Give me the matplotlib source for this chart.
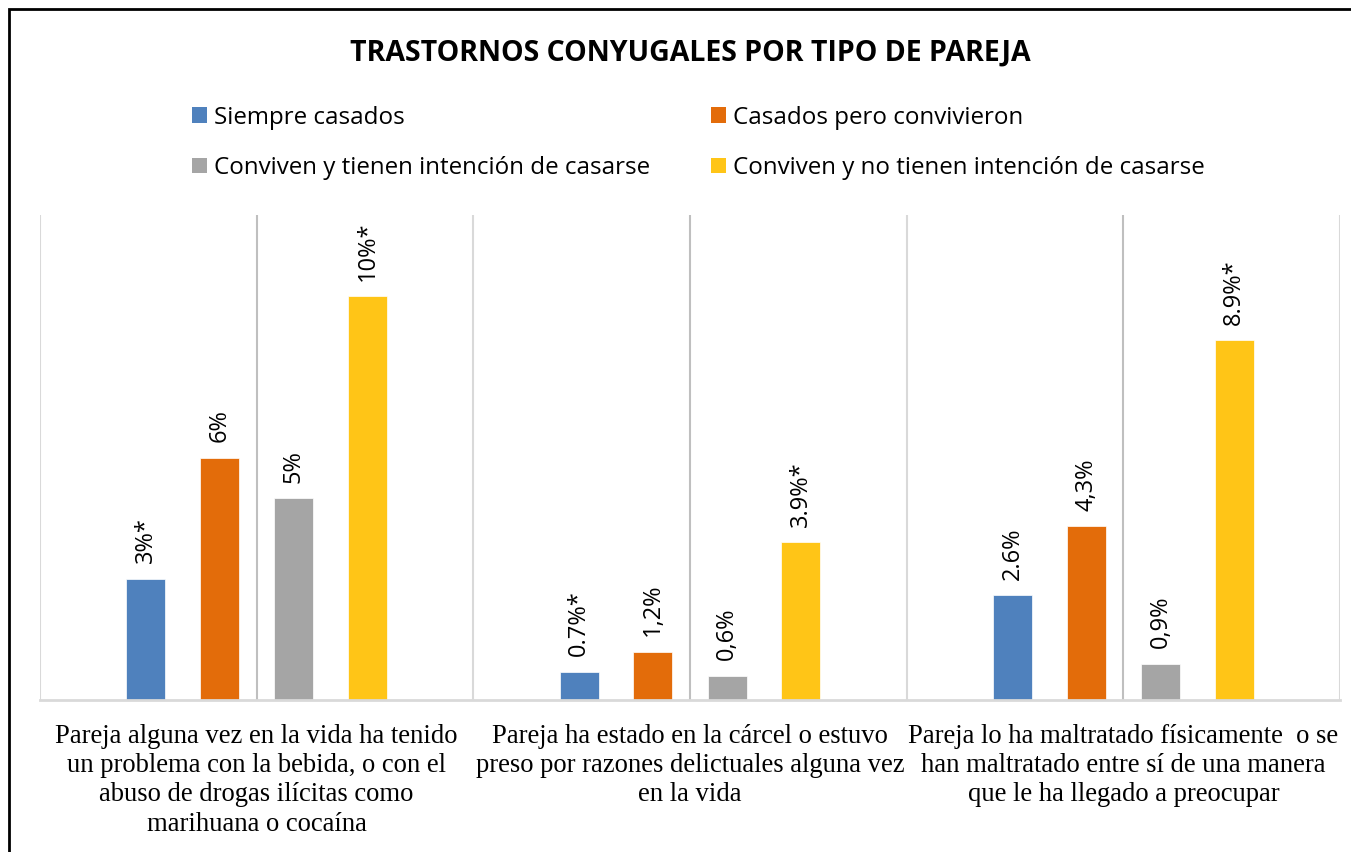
import matplotlib
matplotlib.use("Agg")
import matplotlib.pyplot as plt
import numpy as np
from matplotlib.patches import Patch, Rectangle

# datos
categorias = [
    "Pareja alguna vez en la vida ha tenido\nun problema con la bebida, o con el\nabuso de drogas ilícitas como\nmarihuana o cocaína",
    "Pareja ha estado en la cárcel o estuvo\npreso por razones delictuales alguna vez\nen la vida",
    "Pareja lo ha maltratado físicamente  o se\nhan maltratado entre sí de una manera\nque le ha llegado a preocupar",
]
series = ["Siempre casados", "Casados pero convivieron",
          "Conviven y tienen intención de casarse", "Conviven y no tienen intención de casarse"]
siempre_casados = [3.0, 0.7, 2.6]
casados_convivieron = [6.0, 1.2, 4.3]
conviven_intencion = [5.0, 0.6, 0.9]
conviven_sin_intencion = [10.0, 3.9, 8.9]
etiquetas = [
    ["3%*", "0.7%*", "2.6%"],
    ["6%", "1,2%", "4,3%"],
    ["5%", "0,6%", "0,9%"],
    ["10%*", "3.9%*", "8.9%*"],
]
colores = ["#4F81BD", "#E36C0A", "#A5A5A5", "#FFC517"]

valores = [siempre_casados, casados_convivieron, conviven_intencion, conviven_sin_intencion]

fig = plt.figure(figsize=(13.51, 8.52), dpi=100)
ax = fig.add_axes([40 / 1351, 1 - 700 / 852, 1300 / 1351, 485 / 852])

x = np.arange(len(categorias))
offsets = [-0.256, -0.0855, 0.0855, 0.256]
ancho = 0.09

# lineas verticales
for xi in np.arange(-0.5, 3, 1):
    ax.axvline(xi, color="#D9D9D9", lw=1.5, zorder=0)
for xi in x:
    ax.axvline(xi, color="#BFBFBF", lw=1.5, zorder=0)

for vals, etqs, col, off in zip(valores, etiquetas, colores, offsets):
    barras = ax.bar(x + off, vals, ancho, color=col, edgecolor="white", linewidth=0.5, zorder=2)
    for b, t in zip(barras, etqs):
        ax.annotate(t, (b.get_x() + b.get_width() / 2, b.get_height()),
                    xytext=(0, 11), textcoords="offset points", rotation=90,
                    ha="center", va="bottom", fontsize=17, family="Open Sans", color="#000000")

ax.set_xlim(-0.5, 2.5)
ax.set_ylim(0, 12)
ax.set_yticks([])
ax.set_xticks(x)
ax.set_xticklabels(categorias, fontsize=19.2, family="Liberation Serif", linespacing=1.23)
ax.tick_params(axis="x", length=0, pad=17)
for s in ["top", "left", "right"]:
    ax.spines[s].set_visible(False)
ax.spines["bottom"].set_color("#D9D9D9")
ax.spines["bottom"].set_linewidth(2)

fig.text(690 / 1351, 1 - 53 / 852, "TRASTORNOS CONYUGALES POR TIPO DE PAREJA",
         ha="center", va="center", fontsize=20.5, fontweight="bold", family="Open Sans")

# leyenda por filas
orden = [0, 2, 1, 3]
handles = [Patch(facecolor=colores[i]) for i in orden]
fig.legend(handles, [series[i] for i in orden], ncol=2, loc="upper left",
           bbox_to_anchor=(170 / 1351, 1 - 84 / 852),
           frameon=False, prop={"family": "Open Sans", "size": 17.4},
           handlelength=0.62, handleheight=0.62, handletextpad=0.3,
           columnspacing=2.5, labelspacing=1.09)

# borde
fig.patches.append(Rectangle((9 / 1351, -0.1), 1.2, 1 - 9 / 852 + 0.1, transform=fig.transFigure,
                             fill=False, edgecolor="black", lw=2))

fig.savefig("out.png", dpi=100)
